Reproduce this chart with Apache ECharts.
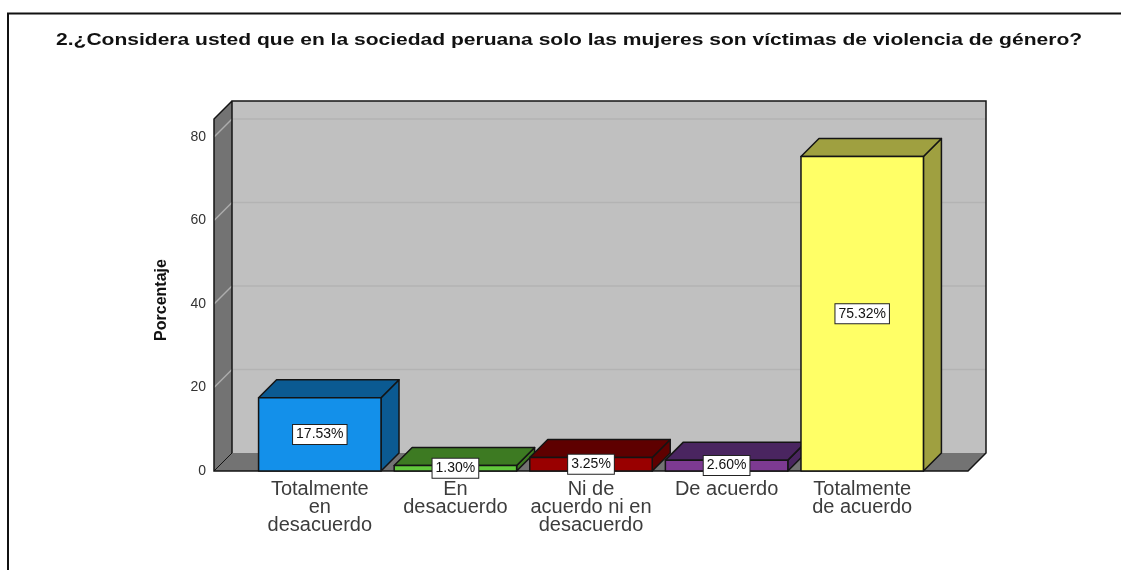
<!DOCTYPE html>
<html>
<head>
<meta charset="utf-8">
<style>html,body{margin:0;padding:0;background:#fff}#c{width:1121px;height:570px}</style>
<script src="https://cdn.jsdelivr.net/npm/echarts@6/dist/echarts.min.js"></script>
</head>
<body>
<div id="c"></div>
<script>
const titleText = '2.¿Considera usted que en la sociedad peruana solo las mujeres son víctimas de violencia de género?';
const yName = 'Porcentaje';
const categories = ['Totalmente\nen\ndesacuerdo', 'En\ndesacuerdo', 'Ni de\nacuerdo ni en\ndesacuerdo', 'De acuerdo', 'Totalmente\nde acuerdo'];
const percentages = [17.53, 1.30, 3.25, 2.60, 75.32];
const yTicks = [0, 20, 40, 60, 80];
const frontColors = ['#1390ea', '#62c93c', '#990000', '#7d3a92', '#ffff66'];
const shadeColors = ['#0b5a92', '#3d7a22', '#5e0000', '#4a2560', '#9fa040'];

const DEPTH = 18, PAD = 38, EDGE = '#141414';
const chart = echarts.init(document.getElementById('c'), null, {renderer: 'canvas'});

function wallItem(params, api) {
  const cs = params.coordSys;
  const L = cs.x - PAD, R = cs.x + cs.width + PAD, T = cs.y, B = cs.y + cs.height;
  const poly = (pts, fill) => ({type: 'polygon', shape: {points: pts}, style: {fill: fill, stroke: null}});
  const line = (pts, stroke, w) => ({type: 'polyline', shape: {points: pts}, style: {fill: null, stroke: stroke, lineWidth: w}});
  const children = [
    poly([[L + DEPTH, T - DEPTH], [R + DEPTH, T - DEPTH], [R + DEPTH, B - DEPTH], [L + DEPTH, B - DEPTH]], '#c0c0c0'),
    poly([[L, T], [L + DEPTH, T - DEPTH], [L + DEPTH, B - DEPTH], [L, B]], '#737373'),
    poly([[L, B], [L + DEPTH, B - DEPTH], [R + DEPTH, B - DEPTH], [R, B]], '#737373')
  ];
  yTicks.filter(v => v > 0).forEach(v => {
    const y = api.coord([0, v])[1];
    children.push(line([[L + DEPTH, y - DEPTH], [R + DEPTH, y - DEPTH]], '#b3b3b3', 1.5));
    children.push(line([[L, y], [L + DEPTH, y - DEPTH]], '#adadad', 1.5));
  });
  children.push(line([[L + DEPTH, B - DEPTH], [L + DEPTH, T - DEPTH], [R + DEPTH, T - DEPTH], [R + DEPTH, B - DEPTH], [R, B], [L, B], [L, T], [L + DEPTH, T - DEPTH]], EDGE, 1.5));
  children.push(line([[L, B], [L + DEPTH, B - DEPTH]], EDGE, 1));
  return {type: 'group', children: children};
}

function barItem(params, api) {
  const i = params.dataIndex, v = api.value(1);
  const c = api.coord([api.value(0), v]), base = api.coord([api.value(0), 0]);
  const w = api.size([1, 0])[0] * 0.903;
  const l = c[0] - w / 2, r = c[0] + w / 2, t = c[1], b = base[1];
  const st = (fill) => ({fill: fill, stroke: EDGE, lineWidth: 1.5, lineJoin: 'round'});
  return {type: 'group', children: [
    {type: 'polygon', shape: {points: [[r, t], [r + DEPTH, t - DEPTH], [r + DEPTH, b - DEPTH], [r, b]]}, style: st(shadeColors[i])},
    {type: 'polygon', shape: {points: [[l, t], [l + DEPTH, t - DEPTH], [r + DEPTH, t - DEPTH], [r, t]]}, style: st(shadeColors[i])},
    {type: 'polygon', shape: {points: [[l, t], [r, t], [r, b], [l, b]]}, style: st(frontColors[i])},
    {type: 'text', z2: 10, style: {
      x: c[0], y: (t + b) / 2, text: v.toFixed(2) + '%', align: 'center', verticalAlign: 'middle',
      font: '14px "Liberation Sans", Arial, sans-serif', fill: '#111',
      backgroundColor: '#fff', borderColor: '#222', borderWidth: 1, padding: [3, 3, 2, 3]
    }}
  ]};
}

chart.setOption({
  animation: false,
  backgroundColor: '#fff',
  grid: {left: 252, right: 191, top: 119, bottom: 99, containLabel: false},
  xAxis: {
    type: 'category', data: categories,
    axisLine: {show: false}, axisTick: {show: false},
    axisLabel: {interval: 0, margin: 9, fontFamily: '"Liberation Sans", Arial, sans-serif', fontSize: 20, lineHeight: 18, color: '#3c3c3c'}
  },
  yAxis: {
    type: 'value', min: 0, max: 84.3, interval: 20, offset: PAD,
    name: yName, nameLocation: 'middle', nameRotate: 90, nameGap: 44,
    nameTextStyle: {fontFamily: '"Liberation Sans", sans-serif', fontSize: 16, fontWeight: 'bold', color: '#111', padding: [0, 10, 0, 0]},
    splitLine: {show: false}, axisLine: {show: false}, axisTick: {show: false},
    axisLabel: {customValues: yTicks, margin: 8, padding: [3, 0, 0, 0], fontFamily: '"Liberation Sans", Arial, sans-serif', fontSize: 14, color: '#333'}
  },
  graphic: [{
    type: 'polyline', silent: true,
    shape: {points: [[8, 570], [8, 13.5], [1121, 13.5]]},
    style: {fill: null, stroke: '#111', lineWidth: 2}
  }, {
    type: 'text', silent: true, x: 56, y: 32, scaleX: 1.237,
    style: {text: titleText, font: 'bold 17px "Liberation Sans", Arial, sans-serif', fill: '#111'}
  }],
  series: [
    {type: 'custom', coordinateSystem: 'cartesian2d', renderItem: wallItem, clip: false, silent: true, z: 1, data: [[0, 0]]},
    {type: 'custom', coordinateSystem: 'cartesian2d', renderItem: barItem, clip: false, z: 2,
     encode: {x: 0, y: 1}, data: percentages.map((v, i) => [i, v])}
  ]
});
</script>
</body>
</html>
